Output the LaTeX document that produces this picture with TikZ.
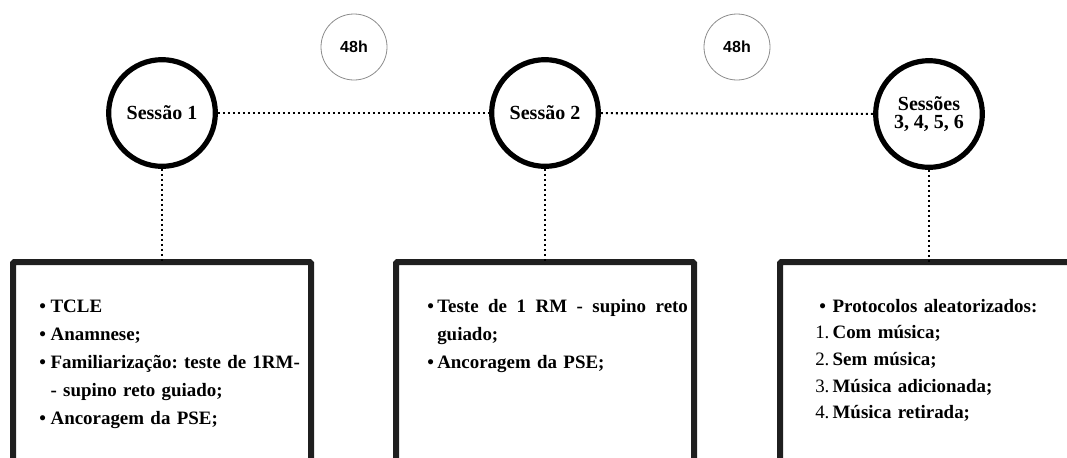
\documentclass[tikz,border=0pt]{standalone}
\usepackage{fontspec}
\setmainfont{Liberation Serif}
\newfontfamily\hfont{Liberation Sans}
\usetikzlibrary{positioning}
\frenchspacing

\newcommand{\blt}[2][9pt]{\makebox[#1][l]{\textbullet}#2}
\newcommand{\nmb}[2]{\makebox[13pt][l]{\mdseries #1.}#2}

\begin{document}
\begin{tikzpicture}[x=0.75pt,y=-0.75pt]
  \tikzset{sess/.style={shape=circle, draw=black, line width=3.9pt,
      minimum size=80pt, inner sep=0pt, align=center,
      font=\bfseries\fontsize{15}{14}\selectfont}}
  \tikzset{hours/.style={shape=circle, draw=black!45, line width=0.6pt,
      minimum size=49.5pt, inner sep=0pt,
      font=\hfont\bfseries\fontsize{12}{14}\selectfont}}
  \tikzset{sessbox/.style={shape=rectangle, draw=black!88, line width=4.5pt,
      minimum width=223.5pt, minimum height=225pt, outer sep=0pt,
      rounded corners=1pt}}
  \tikzset{listtext/.style={anchor=base west, text width=235pt, align=left,
      inner sep=0pt, font=\bfseries\fontsize{14.2}{21}\selectfont}}
  \tikzset{dotline/.style={line width=1.6pt, dash pattern=on 1.5pt off 2.25pt}}

  \useasboundingbox (0,0) rectangle (1067,457);
  \clip (0,0) rectangle (1067,457);

  % sessions
  \node[sess] (s1) at (162,113) {Sessão 1};
  \node[sess] (s2) at (545,113) {Sessão 2};
  \node[sess] (s3) at (929,114) {Sessões\\3, 4, 5, 6};

  \node[hours] (h1) at (354,47) {48h};
  \node[hours] (h2) at (737,47) {48h};

  % boxes (open at the bottom of the page)
  \node[sessbox] (b1) at (162,412) {};
  \node[sessbox] (b2) at (545,412) {};
  \node[sessbox] (b3) at (929,412) {};

  \draw[dotline] (s1) -- (s2);
  \draw[dotline] (s2) -- (s3);
  \draw[dotline] (s1) -- (b1);
  \draw[dotline] (s2) -- (b2);
  \draw[dotline] (s3) -- (b3);

  \node[listtext] (t1) at (39,312) {\blt[8.5pt]{TCLE}\\
    \blt[8.5pt]{Anamnese;}\\
    \blt[8.5pt]{Familiarização: teste de 1RM-}\\
    \hspace*{8.5pt}- supino reto guiado;\\
    \blt[8.5pt]{Ancoragem da PSE;}};

  \node[listtext] (t2) at (427,312)
    {\blt[7.5pt]{\hbox to 188pt{Teste\hfill de\hfill 1\hfill RM\hfill -\hfill supino\hfill reto}}\\
    \hspace*{7.5pt}guiado;\\
    \blt[7.5pt]{Ancoragem da PSE;}};

  \node[listtext, font=\bfseries\fontsize{14.2}{20}\selectfont] (t3) at (815,312)
    {\makebox[13pt][l]{\hspace{3pt}\textbullet}Protocolos aleatorizados:\\
    \nmb{1}{Com música;}\\
    \nmb{2}{Sem música;}\\
    \nmb{3}{Música adicionada;}\\
    \nmb{4}{Música retirada;}};
\end{tikzpicture}
\end{document}
